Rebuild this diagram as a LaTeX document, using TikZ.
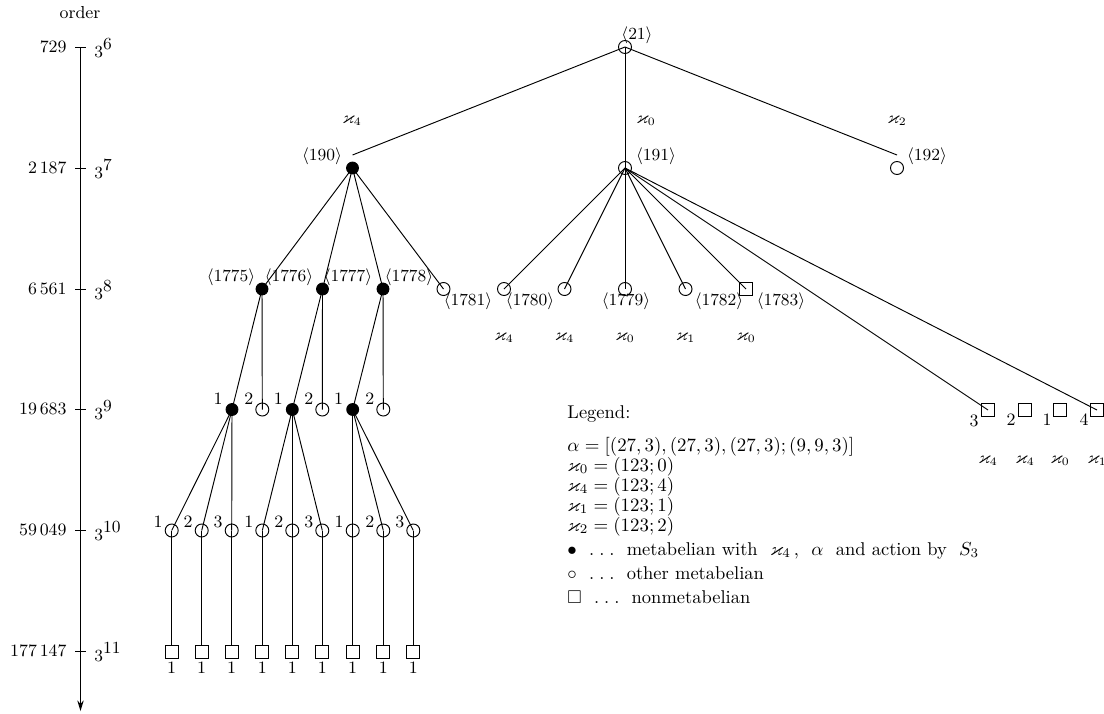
\documentclass[tikz,border=0pt]{standalone}
\usepackage{amsmath,amssymb}
\usetikzlibrary{arrows.meta,calc}
\newcommand{\tdots}{.\hspace{2.6pt}.\hspace{2.6pt}.}
\begin{document}
\begin{tikzpicture}[x=0.53pt,y=-0.53pt,
  font=\fontsize{9.2}{11}\selectfont,
  line width=0.5pt,
  hol/.style={circle,draw,minimum size=6.9pt,inner sep=0pt},
  ful/.style={circle,draw,fill=black,minimum size=6.3pt,inner sep=0pt},
  sqr/.style={rectangle,draw,minimum size=6.9pt,inner sep=0pt},
  lab/.style={inner sep=0.5pt},
  leg/.style={anchor=base west,inner sep=0pt,font=\fontsize{9.8}{12}\selectfont}]
\useasboundingbox (0,0) rectangle (1104,713);

% ---- axis ----
\node[lab] (ord) at (80,13) {order};
\coordinate (atop) at (80.5,47);
\coordinate (abot) at (80.5,711);
\draw[-{Stealth[length=5.6pt,width=3.4pt]}] (atop) -- (abot);
\foreach \yy/\num/\ex [count=\i] in {47/729/6, 168/2\,187/7, 289/6\,561/8, 409/19\,683/9, 530/59\,049/10, 651/177\,147/11}{
  \coordinate (tl\i) at (75,\yy);
  \coordinate (tr\i) at (86,\yy);
  \draw (tl\i) -- (tr\i);
  \node[lab,anchor=east] (ax\i) at (68,\yy) {\num};
  \node[lab,anchor=west] (ex\i) at (93,\yy+1) {$3^{\textstyle\ex}$};
}

% ---- level 6 / 7 ----
\node[hol] (n21) at (625,47) {};
\node[lab] (l21) at (637,35) {$\langle 21\rangle$};
\node[ful] (n190) at (352.5,168) {};
\node[lab] (l190) at (322,156) {$\langle 190\rangle$};
\node[hol] (n191) at (625,168) {};
\node[lab] (l191) at (656,156) {$\langle 191\rangle$};
\node[hol] (n192) at (897,168) {};
\node[lab] (l192) at (927,156) {$\langle 192\rangle$};
\coordinate (e190) at (352.5,155);
\coordinate (e192) at (897,155);
\draw (n21.center) -- (e190);
\draw (n21.center) -- (n191.center);
\draw (n21.center) -- (e192);
\node[lab] (k190) at (352,121) {$\varkappa_4$};
\node[lab] (k191) at (646,121) {$\varkappa_0$};
\node[lab] (k192) at (897,121) {$\varkappa_2$};

% ---- level 8 ----
\node[ful] (a) at (262,289) {};
\node[ful] (b) at (322.5,289) {};
\node[ful] (c) at (383,289) {};
\node[hol] (n1781) at (443.5,289) {};
\node[hol] (n1780) at (504,289) {};
\node[hol] (m2) at (564.5,289) {};
\node[hol] (n1779) at (625,289) {};
\node[hol] (m4) at (685.5,289) {};
\node[sqr] (n1782) at (746,289) {};
\node[lab] (l1775) at (231,277) {$\langle 1775\rangle$};
\node[lab] (l1776) at (289,277) {$\langle 1776\rangle$};
\node[lab] (l1777) at (348,277) {$\langle 1777\rangle$};
\node[lab] (l1778) at (409,277) {$\langle 1778\rangle$};
\node[lab] (l1781) at (468,301) {$\langle 1781\rangle$};
\node[lab] (l1780) at (530,301) {$\langle 1780\rangle$};
\node[lab] (l1779) at (626,301) {$\langle 1779\rangle$};
\node[lab] (l1782) at (719,301) {$\langle 1782\rangle$};
\node[lab] (l1783) at (781,301) {$\langle 1783\rangle$};
\node[lab] (q1) at (504,338) {$\varkappa_4$};
\node[lab] (q2) at (564.5,338) {$\varkappa_4$};
\node[lab] (q3) at (625,338) {$\varkappa_0$};
\node[lab] (q4) at (685.5,338) {$\varkappa_1$};
\node[lab] (q5) at (746,338) {$\varkappa_0$};
\foreach \t in {a,b,c,n1781}{\draw (n190.center) -- (\t.center);}
\foreach \t in {n1780,m2,n1779,m4,n1782}{\draw (n191.center) -- (\t.center);}

% ---- level 9 ----
\node[ful] (f1) at (232,409.5) {};
\node[hol] (c1) at (262.3,409.5) {};
\node[ful] (f2) at (292.3,409.5) {};
\node[hol] (c2) at (322.3,409.5) {};
\node[ful] (f3) at (352.7,409.5) {};
\node[hol] (c3) at (383.3,409.5) {};
\foreach \n/\x in {f1/232,f2/292.3,f3/352.7}{\node[lab] (l\n) at (\x-14,399) {1};}
\foreach \n/\x in {c1/262.3,c2/322.3,c3/383.3}{\node[lab] (l\n) at (\x-13.5,399) {2};}
\draw (a.center) -- (f1.center); \draw (a.center) -- (c1.center);
\draw (b.center) -- (f2.center); \draw (b.center) -- (c2.center);
\draw (c.center) -- (f3.center); \draw (c.center) -- (c3.center);

% right squares
\node[sqr] (s1) at (988,410) {};
\node[sqr] (s2) at (1025,410) {};
\node[sqr] (s3) at (1060,410) {};
\node[sqr] (s4) at (1097,410) {};
\node[lab] (ls1) at (974,421) {3};
\node[lab] (ls2) at (1011,420) {2};
\node[lab] (ls3) at (1047,420) {1};
\node[lab] (ls4) at (1084,420) {4};
\node[lab] (r1) at (988,461) {$\varkappa_4$};
\node[lab] (r2) at (1025,461) {$\varkappa_4$};
\node[lab] (r3) at (1060,461) {$\varkappa_0$};
\node[lab] (r4) at (1097,461) {$\varkappa_1$};
\draw (n191.center) -- (s1.center);
\draw (n191.center) -- (s4.center);

% ---- level 10 / 11 ----
\foreach \x [count=\i] in {171.7,201.7,231.7,262.3,292.3,322.3,352.7,383.3,413.3}{
  \node[hol] (t\i) at (\x,530.5) {};
  \node[sqr] (u\i) at (\x,651.5) {};
  \node[lab] (lu\i) at (\x,668) {1};
  \draw (t\i.center) -- (u\i.north);
}
\foreach \i/\k in {1/1,2/2,3/3,4/1,5/2,6/3,7/1,8/2,9/3}{
  \node[lab] (lt\i) at ($(t\i)+(-13.5,-9)$) {\k};
}
\foreach \i in {1,2,3}{\draw (f1.center) -- (t\i.center);}
\foreach \i in {4,5,6}{\draw (f2.center) -- (t\i.center);}
\foreach \i in {7,8,9}{\draw (f3.center) -- (t\i.center);}

% ---- legend ----
\node[leg] (g0) at (567,418) {Legend:};
\node[leg] (g1) at (567,451) {$\alpha=[(27,3),(27,3),(27,3);(9,9,3)]$};
\node[leg] (g2) at (567,471) {$\varkappa_0=(123;0)$};
\node[leg] (g3) at (567,491) {$\varkappa_4=(123;4)$};
\node[leg] (g4) at (567,511) {$\varkappa_1=(123;1)$};
\node[leg] (g5) at (567,531) {$\varkappa_2=(123;2)$};
\node[leg] (g6) at (567,555) {$\bullet$\ \ \tdots\ \ metabelian with~ $\varkappa_4$\,, ~$\alpha$~ and action by~ $S_3$};
\node[leg] (g7) at (567,579) {$\circ$\ \ \tdots\ \ other metabelian};
\node[leg] (g8) at (567,603) {$\square$\ \ \tdots\ \ nonmetabelian};
\end{tikzpicture}
\end{document}
